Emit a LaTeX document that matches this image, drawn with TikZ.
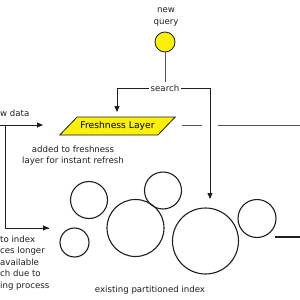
\documentclass[tikz,border=0pt]{standalone}
\usepackage{fontspec}
\setmainfont{DejaVu Sans}
\usepackage{tikz}
\usetikzlibrary{shapes.geometric, arrows.meta, positioning}
\definecolor{myyellow}{RGB}{250,240,10}
\definecolor{mydark}{RGB}{30,30,30}
\definecolor{mygrey}{RGB}{85,85,85}
\tikzset{
  txt/.style={font=\fontsize{8.6}{11.5}\selectfont, text=mydark, inner sep=1pt},
  part/.style={circle, draw=mydark, line width=1.1pt, inner sep=0pt},
  layer/.style={trapezium, trapezium left angle=42, trapezium right angle=138,
    trapezium stretches=true, draw=mydark, fill=myyellow, line width=0.8pt,
    minimum width=111pt, minimum height=18pt,
    font=\fontsize{9.2}{11}\selectfont},
  arrow/.style={-{Triangle[length=6pt, width=5pt]}, line width=0.9pt, color=mydark},
  line/.style={line width=0.9pt, color=mydark},
  greyline/.style={line width=0.9pt, color=mygrey}
}
\begin{document}
\begin{tikzpicture}[x=1pt, y=-1pt]
  \useasboundingbox (0,0) rectangle (300,300);

  % query and search
  \node[txt, align=center] (querytxt) at (166,17) {new\\query};
  \node[circle, draw=mydark, fill=myyellow, line width=0.8pt, minimum size=20pt, inner sep=0pt] (query) at (165,42) {};
  \node[txt, inner sep=2pt] (search) at (165,88) {search};
  \draw[greyline] (query) -- (search);

  % freshness layer
  \node[layer] (fresh) at (117.5,126) {Freshness Layer};
  \node[txt, align=center] (freshnote) at (73,155.5) {added to freshness\\layer for instant refresh};
  \coordinate (freshtop) at (117,112);
  \draw[arrow] (search.west) -| (freshtop);

  % partitions
  \node[part, minimum size=37pt] (p1) at (89,200) {};
  \node[part, minimum size=29pt] (p2) at (74.5,242.5) {};
  \node[part, minimum size=57pt] (p3) at (135.5,228) {};
  \node[part, minimum size=37pt] (p4) at (163,190.5) {};
  \node[part, minimum size=66pt] (p5) at (205.5,241) {};
  \node[part, minimum size=38pt] (p6) at (257,218.5) {};
  \node[txt] (idxtxt) at (150,290) {existing partitioned index};
  \coordinate (p5top) at (210,199);
  \draw[arrow] (search.east) -| (p5top);

  % new data
  \node[txt, anchor=west, inner sep=0pt] (newtxt) at (0,113) {w data};
  \node[txt, align=left, anchor=north west, inner sep=0pt] (slowtxt) at (0,235.5)
    {to index\\ces longer\\available\\ch due to\\ing process};
  \coordinate (newin) at (-10,125);
  \coordinate (newturn) at (5,125);
  \coordinate (freshin) at (43,125);
  \coordinate (idxin) at (49,228);
  \draw[arrow] (newin) -- (freshin);
  \draw[line] (newturn) |- (idxin);
  \draw[arrow] (newturn |- idxin) -- (idxin);

  % outputs on the right
  \coordinate (freshout) at (182,125);
  \coordinate (gapl) at (202,125);
  \coordinate (gapr) at (218,125);
  \coordinate (outa) at (300,125);
  \draw[greyline] (freshout) -- (gapl);
  \draw[greyline] (gapr) -- (outa);
  \coordinate (outbl) at (275,237);
  \coordinate (outbr) at (300,237);
  \draw[line, line width=1.2pt] (outbl) -- (outbr);
\end{tikzpicture}
\end{document}
